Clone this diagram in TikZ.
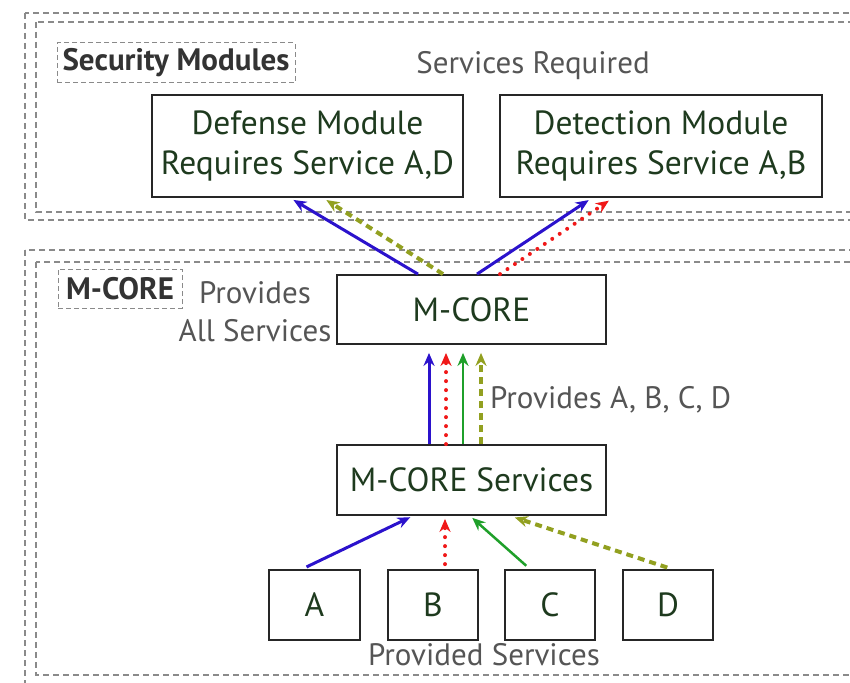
\documentclass[tikz,border=0pt]{standalone}
\usepackage{fontspec}
\setmainfont{PT Sans}
\usetikzlibrary{arrows.meta}
\definecolor{txtgreen}{HTML}{1E3A1E}
\definecolor{lblgray}{HTML}{555555}
\definecolor{arblue}{HTML}{2B12CC}
\definecolor{arred}{HTML}{F01818}
\definecolor{argreen}{HTML}{1FA02A}
\definecolor{arolive}{HTML}{92A020}
\definecolor{dashgray}{HTML}{8A8A8A}
\begin{document}
\begin{tikzpicture}[x=1pt,y=-1pt,
  box/.style={draw=black!85, line width=1.8pt, inner sep=0pt, align=center, text=txtgreen, font=\fontsize{33.5}{40}\selectfont},
  lbl/.style={text=lblgray, font=\fontsize{31}{38}\selectfont, inner sep=0pt, align=center},
  tag/.style={draw=dashgray, line width=1pt, dash pattern=on 5pt off 3pt, font=\bfseries\fontsize{31}{34}\selectfont, text=black!80, inner sep=0pt},
  region/.style={draw=dashgray, line width=1.1pt, dash pattern=on 6pt off 4pt},
  tipa/.style={-{Stealth[length=13pt,width=11pt]}},
  ablue/.style={tipa, arblue, line width=3pt},
  agreen/.style={tipa, argreen, line width=2.5pt},
  ared/.style={tipa, arred, line width=4pt, dash pattern=on 0pt off 9pt, line cap=round},
  aolive/.style={tipa, arolive, line width=4pt, dash pattern=on 7pt off 5pt}
]
\useasboundingbox (0,0) rectangle (850,682);
\clip (0,0) rectangle (850,682);
% regions
\draw[region] (25,13) rectangle (880,220);
\draw[region] (36,22) rectangle (880,212);
\draw[region] (25,250) rectangle (880,700);
\draw[region] (36,262) rectangle (880,675);
% tags and labels
\node[tag, minimum width=238pt, minimum height=40pt] (sec) at (176,63) {Security Modules};
\node[tag, minimum width=124pt, minimum height=39pt] (mtag) at (120,288.5) {M-CORE};
\node[lbl] (req) at (533,66) {Services Required};
\node[lbl] (prov) at (255,312) {Provides\\All Services};
\node[lbl, anchor=west] (pabcd) at (490,400) {Provides A, B, C, D};
\node[lbl] (provd) at (484,655) {Provided Services};
% boxes
\node[box, minimum width=311pt, minimum height=102pt] (def) at (307.5,146) {Defense Module\\Requires Service A,D};
\node[box, minimum width=322pt, minimum height=102pt] (det) at (661,146) {Detection Module\\Requires Service A,B};
\node[box, minimum width=269pt, minimum height=69pt] (mc) at (471.5,309.5) {M-CORE};
\node[box, minimum width=269pt, minimum height=70pt] (mcs) at (471.5,480) {M-CORE Services};
\node[box, minimum width=91pt, minimum height=70pt] (a) at (314.5,605) {A};
\node[box, minimum width=90pt, minimum height=70pt] (b) at (433,605) {B};
\node[box, minimum width=90pt, minimum height=70pt] (c) at (550,605) {C};
\node[box, minimum width=90pt, minimum height=70pt] (d) at (668,605) {D};
% top arrows
\draw[ablue, shorten >=4pt] ([xshift=-53.5pt]mc.north) -- ([xshift=-17.5pt]def.south);
\draw[aolive, shorten >=4pt] ([xshift=-28.5pt]mc.north) -- ([xshift=15.5pt]def.south);
\draw[ablue, shorten >=4pt] ([xshift=5.5pt]mc.north) -- ([xshift=-69pt]det.south);
\draw[ared, shorten >=5pt] ([xshift=28.5pt]mc.north) -- ([xshift=-48pt]det.south);
% vertical arrows
\draw[ablue, shorten >=8pt] ([xshift=-42.5pt]mcs.north) -- ([xshift=-42.5pt]mc.south);
\draw[ared, shorten >=8pt] ([xshift=-25.5pt]mcs.north) -- ([xshift=-25.5pt]mc.south);
\draw[agreen, shorten >=8pt] ([xshift=-8.5pt]mcs.north) -- ([xshift=-8.5pt]mc.south);
\draw[aolive, shorten >=8pt] ([xshift=9.5pt]mcs.north) -- ([xshift=9.5pt]mc.south);
% bottom arrows
\draw[ablue, shorten <=5pt, shorten >=3pt] ([xshift=-12.5pt]a.north) -- ([xshift=-58.5pt]mcs.south);
\draw[ared, shorten <=5pt, shorten >=3pt] ([xshift=12pt]b.north) -- ([xshift=-26.5pt]mcs.south);
\draw[agreen, shorten <=5pt, shorten >=3pt] ([xshift=-20pt]c.north) -- ([xshift=-1.5pt]mcs.south);
\draw[aolive, shorten <=5pt, shorten >=5pt] ([xshift=4pt]d.north) -- ([xshift=38.5pt]mcs.south);
\end{tikzpicture}
\end{document}
